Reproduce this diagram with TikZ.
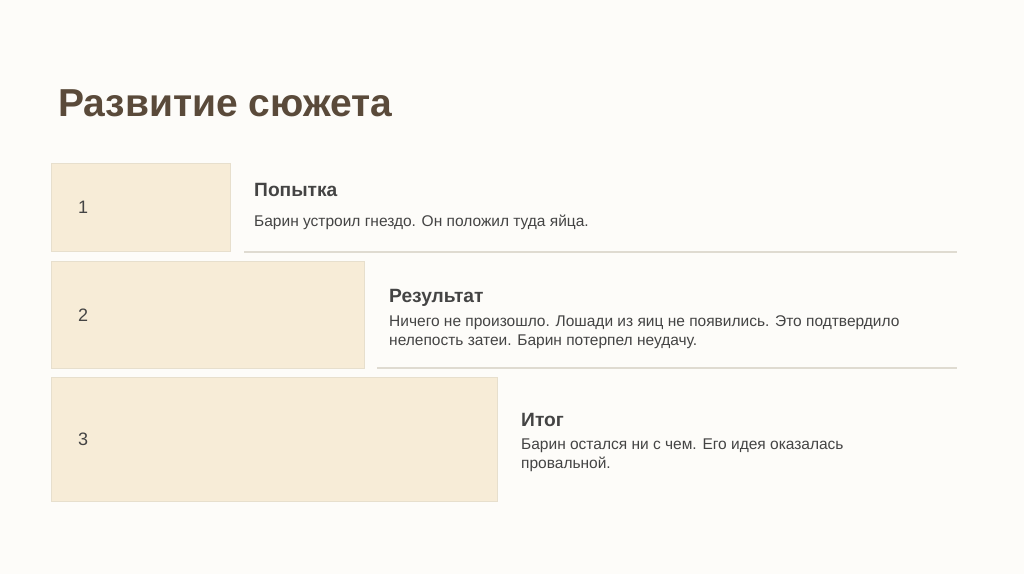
\documentclass[tikz,border=0pt]{standalone}
\usepackage{fontspec}
\setmainfont{Liberation Sans}
\usetikzlibrary{positioning}

\definecolor{pagebg}{HTML}{FDFCF9}
\definecolor{boxfill}{HTML}{F7ECD7}
\definecolor{boxline}{HTML}{E7DFCD}
\definecolor{ruleline}{HTML}{DFDBD1}
\definecolor{titlebrown}{HTML}{5A4A3A}
\definecolor{textgray}{HTML}{444444}

\tikzstyle{stepbox}=[draw=boxline,fill=boxfill,line width=0.8pt,anchor=north west,inner sep=0pt]
\tikzstyle{stepnum}=[font=\fontsize{18}{21}\selectfont,text=textgray,anchor=west,inner sep=0pt]
\tikzstyle{heading}=[font=\bfseries\fontsize{19.2}{22}\selectfont,text=textgray,anchor=base west,inner sep=0pt]
\tikzstyle{body}=[font=\fontsize{15.5}{19}\selectfont,text=textgray,align=left,anchor=base west,inner sep=0pt]
\tikzstyle{sep}=[draw=ruleline,line width=1.2pt]

\begin{document}
\begin{tikzpicture}[x=1pt,y=-1pt]
    % page
    \fill[pagebg] (0,0) rectangle (1024,574);
    \useasboundingbox (0,0) rectangle (1024,574);
    \node[font=\bfseries\fontsize{39}{44}\selectfont,text=titlebrown,anchor=base west,inner sep=0pt]
        (title) at (58,116) {Развитие сюжета};
    % First we draw the boxes and their numbers
    \foreach \n/\x/\y/\w/\h in {1/51/163/179/88, 2/51/261/313/107, 3/51/377/446/124}
    {
        \node[stepbox,minimum width=\w pt,minimum height=\h pt] (box\n) at (\x,\y) {};
        \node[stepnum] (num\n) at ([xshift=27pt]box\n.west) {\n};
    }
    % Headings and texts (body is set on its last line)
    \foreach \n/\x/\y/\dy/\name/\txt in {
        1/254/196.5/29.5/Попытка/{Барин устроил гнездо. Он положил туда яйца.},
        2/389/302.5/42.5/Результат/{Ничего не произошло. Лошади из яиц не появились. Это подтвердило\\нелепость затеи. Барин потерпел неудачу.},
        3/521/426/42/Итог/{Барин остался ни с чем. Его идея оказалась\\провальной.}}
    {
        \node[heading] (head\n) at (\x,\y) {\name};
        \node[body] (text\n) at ([yshift=-\dy pt]head\n.base west) {\txt};
    }
    % separators
    \coordinate (sepa1) at (244,252);
    \coordinate (sepb1) at (957,252);
    \coordinate (sepa2) at (377,368);
    \coordinate (sepb2) at (957,368);
    \foreach \n in {1,2}
        \path[sep] (sepa\n) -- (sepb\n);
\end{tikzpicture}
\end{document}
